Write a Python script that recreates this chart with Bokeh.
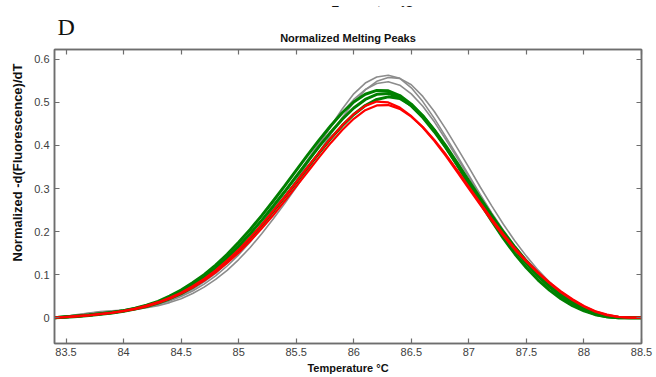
from bokeh.plotting import figure
from bokeh.layouts import column
from bokeh.models import Range1d, FixedTicker, LinearAxis, Title, CustomLabelingPolicy
from bokeh.core.properties import value
from bokeh.embed import file_html
from bokeh.resources import INLINE

# Temperature grid (°C), 83.4 .. 88.5 in 0.1 steps
temps = [round(83.4 + 0.1 * i, 1) for i in range(52)]

gray_1 = [0.000, 0.003, 0.007, 0.011, 0.014, 0.016, 0.018, 0.021, 0.025, 0.031,
          0.039, 0.049, 0.062, 0.078, 0.097, 0.120, 0.146, 0.176, 0.209, 0.245,
          0.281, 0.318, 0.360, 0.403, 0.445, 0.485, 0.520, 0.545, 0.559, 0.563,
          0.556, 0.534, 0.502, 0.463, 0.420, 0.376, 0.331, 0.286, 0.243, 0.203,
          0.166, 0.133, 0.103, 0.077, 0.054, 0.035, 0.020, 0.010, 0.004, 0.001,
          0.000, 0.000]
gray_2 = [0.000, 0.002, 0.005, 0.009, 0.012, 0.014, 0.016, 0.019, 0.023, 0.028,
          0.035, 0.044, 0.056, 0.071, 0.089, 0.110, 0.135, 0.163, 0.195, 0.229,
          0.265, 0.303, 0.343, 0.385, 0.426, 0.465, 0.500, 0.529, 0.549, 0.558,
          0.556, 0.541, 0.514, 0.479, 0.438, 0.394, 0.349, 0.303, 0.259, 0.217,
          0.178, 0.143, 0.111, 0.083, 0.059, 0.039, 0.023, 0.012, 0.005, 0.001,
          0.000, 0.000]
gray_3 = [0.000, 0.003, 0.006, 0.010, 0.013, 0.015, 0.017, 0.020, 0.025, 0.032,
          0.041, 0.052, 0.066, 0.083, 0.103, 0.127, 0.154, 0.184, 0.217, 0.253,
          0.290, 0.328, 0.367, 0.406, 0.443, 0.477, 0.507, 0.530, 0.544, 0.548,
          0.540, 0.520, 0.491, 0.455, 0.414, 0.371, 0.327, 0.283, 0.241, 0.201,
          0.164, 0.131, 0.101, 0.075, 0.053, 0.034, 0.019, 0.009, 0.003, 0.001,
          0.000, 0.000]

green_1 = [0.000, 0.002, 0.004, 0.006, 0.009, 0.012, 0.016, 0.022, 0.029, 0.038,
           0.050, 0.064, 0.081, 0.100, 0.122, 0.147, 0.175, 0.205, 0.237, 0.271,
           0.306, 0.342, 0.378, 0.413, 0.446, 0.476, 0.501, 0.519, 0.528, 0.527,
           0.516, 0.496, 0.469, 0.436, 0.399, 0.359, 0.318, 0.277, 0.237, 0.199,
           0.164, 0.132, 0.103, 0.077, 0.055, 0.036, 0.021, 0.010, 0.003, 0.001,
           0.000, 0.000]
green_2 = [0.000, 0.002, 0.004, 0.006, 0.009, 0.012, 0.016, 0.021, 0.028, 0.036,
           0.047, 0.060, 0.076, 0.094, 0.115, 0.139, 0.166, 0.195, 0.226, 0.259,
           0.293, 0.328, 0.363, 0.398, 0.431, 0.461, 0.487, 0.507, 0.519, 0.521,
           0.512, 0.492, 0.465, 0.432, 0.395, 0.355, 0.313, 0.271, 0.231, 0.193,
           0.158, 0.126, 0.097, 0.072, 0.050, 0.032, 0.018, 0.008, 0.002, 0.000,
           0.000, 0.000]
green_3 = [0.000, 0.001, 0.003, 0.005, 0.008, 0.011, 0.015, 0.020, 0.026, 0.034,
           0.044, 0.056, 0.071, 0.088, 0.108, 0.131, 0.157, 0.185, 0.215, 0.247,
           0.280, 0.314, 0.349, 0.383, 0.416, 0.446, 0.472, 0.493, 0.507, 0.513,
           0.509, 0.493, 0.468, 0.435, 0.396, 0.354, 0.310, 0.266, 0.224, 0.184,
           0.148, 0.116, 0.088, 0.064, 0.044, 0.028, 0.016, 0.007, 0.002, 0.000,
           0.000, 0.000]

red_1 = [0.000, 0.002, 0.004, 0.006, 0.009, 0.012, 0.016, 0.021, 0.028, 0.036,
         0.046, 0.058, 0.073, 0.090, 0.110, 0.133, 0.158, 0.186, 0.216, 0.248,
         0.281, 0.315, 0.350, 0.384, 0.417, 0.447, 0.473, 0.492, 0.502, 0.500,
         0.488, 0.468, 0.442, 0.411, 0.376, 0.338, 0.300, 0.262, 0.225, 0.190,
         0.158, 0.130, 0.104, 0.080, 0.059, 0.041, 0.026, 0.014, 0.006, 0.002,
         0.000, 0.000]
red_2 = [0.000, 0.001, 0.003, 0.005, 0.008, 0.011, 0.015, 0.020, 0.026, 0.034,
         0.044, 0.056, 0.070, 0.086, 0.105, 0.127, 0.151, 0.178, 0.207, 0.238,
         0.271, 0.305, 0.339, 0.373, 0.406, 0.436, 0.462, 0.482, 0.493, 0.494,
         0.485, 0.467, 0.443, 0.413, 0.379, 0.342, 0.304, 0.266, 0.229, 0.194,
         0.161, 0.132, 0.106, 0.082, 0.061, 0.043, 0.027, 0.015, 0.007, 0.002,
         0.000, 0.000]

x_ticks = [83.5, 84, 84.5, 85, 85.5, 86, 86.5, 87, 87.5, 88, 88.5]
x_tick_labels = ["83.5", "84", "84.5", "85", "85.5", "86", "86.5", "87", "87.5", "88", "88.5"]
y_ticks = [0, 0.1, 0.2, 0.3, 0.4, 0.5, 0.6]
y_tick_labels = ["0", "0.1", "0.2", "0.3", "0.4", "0.5", "0.6"]

title_text = "Normalized Melting Peaks"
panel_letter = "D"
x_label = "Temperature \u00b0C"
y_label = "Normalized -d(Fluorescence)/dT"

FONT = "Liberation Sans"
FRAME_COL = "#6e6e6e"
STRIP_H = 7  # strip at the top showing the cut-off axis title of the panel above

# --- top strip: only the lower part of the previous panel's axis title is visible ---
strip = figure(width=656, height=STRIP_H, output_backend="svg", toolbar_location=None,
               x_range=Range1d(0, 656), y_range=Range1d(0, STRIP_H),
               x_axis_type=None, y_axis_type=None, min_border=0)
strip.outline_line_color = None
strip.xgrid.visible = False
strip.ygrid.visible = False
strip.title.text = ""
strip.text(x=[310], y=[STRIP_H - 4], text=[x_label], text_font=value(FONT),
           text_font_size=value("11px"), text_font_style="bold", text_color="#111111",
           text_baseline="alphabetic", text_align="left")

# --- main panel ---
p = figure(width=656, height=377 - STRIP_H, output_backend="svg", toolbar_location=None,
           x_range=Range1d(83.4, 88.5), y_range=Range1d(-0.06, 0.623),
           min_border_left=52, min_border_right=15, min_border_top=49 - STRIP_H,
           min_border_bottom=34)
p.title.text = ""
p.xgrid.visible = False
p.ygrid.visible = False
p.outline_line_color = FRAME_COL
p.outline_line_width = 1.5
p.background_fill_color = "white"
p.border_fill_color = "white"

for ys in (gray_1, gray_2, gray_3):
    p.line(temps, ys, line_color="#8c8c8c", line_width=1.6)
for ys in (green_1, green_2, green_3):
    p.line(temps, ys, line_color="#008000", line_width=3)
for ys in (red_1, red_2):
    p.line(temps, ys, line_color="#ff0000", line_width=2.2)

hide_all = "for (const i of indices) { indices.unset(i) }\nreturn indices"

def style_axis(ax, ticks, labels, show_labels=True):
    ax.ticker = FixedTicker(ticks=ticks)
    ax.minor_tick_line_color = None
    ax.major_tick_in = 5
    ax.major_tick_out = 0
    ax.major_tick_line_color = FRAME_COL
    ax.major_tick_line_width = 1.2
    ax.axis_line_color = FRAME_COL
    ax.axis_line_width = 1.5
    ax.major_label_text_font = FONT
    ax.major_label_text_color = "#404040"
    if show_labels:
        ax.major_label_overrides = {t: l for t, l in zip(ticks, labels)}
        ax.major_label_text_font_size = "11px"
    else:
        ax.major_label_policy = CustomLabelingPolicy(code=hide_all)
        ax.major_label_text_font_size = "0px"
        ax.major_label_standoff = 0

xa = p.xaxis[0]
style_axis(xa, x_ticks, x_tick_labels)
xa.major_label_standoff = 4
xa.axis_label = x_label
xa.axis_label_text_font = FONT
xa.axis_label_text_font_size = "11px"
xa.axis_label_text_font_style = "bold"
xa.axis_label_text_color = "#111111"
xa.axis_label_standoff = 3

ya = p.yaxis[0]
style_axis(ya, y_ticks, y_tick_labels)
ya.major_label_standoff = 5

top_ax = LinearAxis()
style_axis(top_ax, x_ticks, x_tick_labels, show_labels=False)
p.add_layout(top_ax, "above")
right_ax = LinearAxis()
style_axis(right_ax, y_ticks, y_tick_labels, show_labels=False)
p.add_layout(right_ax, "right")

# y-axis title as a side title (placed where the reference has it)
p.add_layout(Title(text=y_label, align="left", offset=82, text_font=FONT, text_font_size="13px",
                   text_font_style="bold", text_color="#111111", standoff=14), "left")

# Stacked titles above the frame (first added = closest to the frame)
p.add_layout(Title(text=title_text, align="center", text_font=FONT, text_font_size="11px",
                   text_font_style="bold", text_color="#111111", standoff=11), "above")
p.add_layout(Title(text=panel_letter, align="left", offset=3, text_font="Liberation Serif",
                   text_font_size="24px", text_font_style="normal", text_color="#111111",
                   standoff=-31), "above")

layout = column(strip, p, spacing=0)
open("out.html", "w").write(file_html(layout, INLINE))
